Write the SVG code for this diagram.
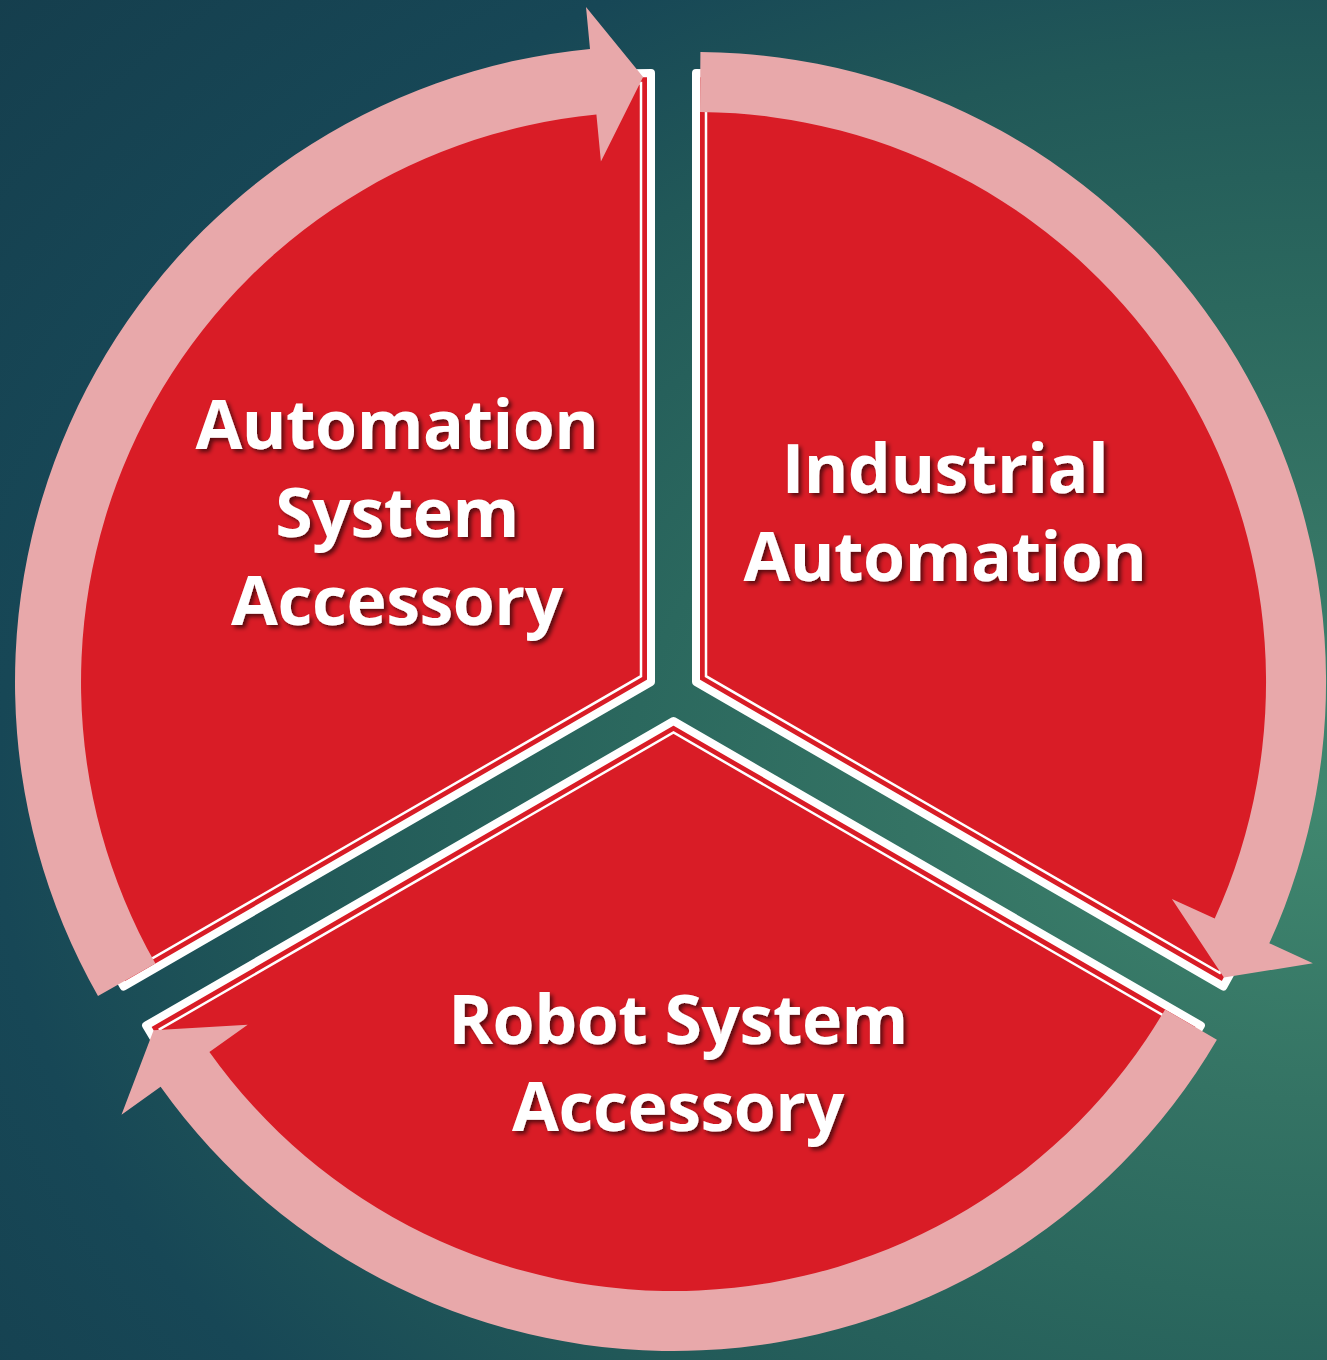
<svg xmlns="http://www.w3.org/2000/svg" width="1327" height="1360" viewBox="0 0 1327 1360">
  <defs>
    <radialGradient id="bg" gradientUnits="userSpaceOnUse" cx="0" cy="0" r="1" gradientTransform="translate(1327 800) scale(1750 1250)">
      <stop offset="0" stop-color="#40886F"/>
      <stop offset="0.24" stop-color="#347364"/>
      <stop offset="0.4" stop-color="#2B685E"/>
      <stop offset="0.6" stop-color="#215858"/>
      <stop offset="0.76" stop-color="#174756"/>
      <stop offset="1" stop-color="#153E4D"/>
    </radialGradient>
    <filter id="shadow" x="-10%" y="-20%" width="130%" height="150%">
      <feDropShadow dx="3" dy="3" stdDeviation="2" flood-color="#000000" flood-opacity="0.6"/>
    </filter>
  </defs>
  <style>
    .sector { fill: #D91C26; stroke: #FFFFFF; stroke-width: 8; stroke-linejoin: round; stroke-linecap: round; }
    .inset { fill: none; stroke: #FFFFFF; stroke-width: 2.5; stroke-linejoin: miter; }
    .arrow { fill: #E8A8AA; stroke: none; }
    .label { font-family: "Open Sans", Lato, "Liberation Sans", sans-serif; font-weight: bold; font-size: 68px; letter-spacing: -0.5px; fill: #FFFFFF; text-anchor: middle; filter: url(#shadow); font-variant-ligatures: none; }
  </style>
  <rect x="0" y="0" width="1327" height="1360" fill="url(#bg)"/>

  <g id="node-automation-system-accessory">
    <path class="sector" d="M651,682 L651,73 A609,609 0 0 0 123.6,986.5 Z"/>
    <path class="inset" d="M641,83.1 L641,676.2 L127.3,972.8 A599,599 0 0 1 641,83.1 Z"/>
    <text class="label" x="397" y="449">Automation</text>
    <text class="label" x="397" y="537">System</text>
    <text class="label" x="397" y="625">Accessory</text>
  </g>

  <g id="node-industrial-automation">
    <path class="sector" d="M696,682 L1223.4,986.5 A609,609 0 0 0 696,73 Z"/>
    <path class="inset" d="M706,83.1 L706,676.2 L1219.7,972.8 A599,599 0 0 0 706,83.1 Z"/>
    <text class="label" x="945" y="493">Industrial</text>
    <text class="label" x="945" y="581">Automation</text>
  </g>

  <g id="node-robot-system-accessory">
    <path class="sector" d="M673.5,721 L146.1,1025.5 A609,609 0 0 0 1200.9,1025.5 Z"/>
    <path class="inset" d="M159.8,1029.2 L673.5,732.5 L1187.2,1029.2 A599,599 0 0 1 159.8,1029.2 Z"/>
    <text class="label" x="678" y="1044">Robot System</text>
    <text class="label" x="678" y="1131">Accessory</text>
  </g>

  <g id="connectors">
    <path id="arrow-left-to-right" class="arrow" d="M98.0,996.1 A636,636 0 0 1 590.0,48.9 L586.0,7.1 L643.1,77.0 L600.9,161.4 L596.4,114.6 A570,570 0 0 0 155.4,963.5 Z"/>
    <path id="arrow-right-to-bottom" class="arrow" d="M700.4,52.0 A630,630 0 0 1 1269.3,943.3 L1312.9,963.2 L1223.9,977.6 L1171.9,898.9 L1214.7,918.4 A570,570 0 0 0 700.0,112.0 Z"/>
    <path id="arrow-bottom-to-left" class="arrow" d="M1216.9,1039.8 A630,630 0 0 1 160.6,1086.8 L121.5,1114.7 L153.6,1030.3 L247.7,1024.7 L209.4,1052.0 A570,570 0 0 0 1165.1,1009.4 Z"/>
  </g>
</svg>
